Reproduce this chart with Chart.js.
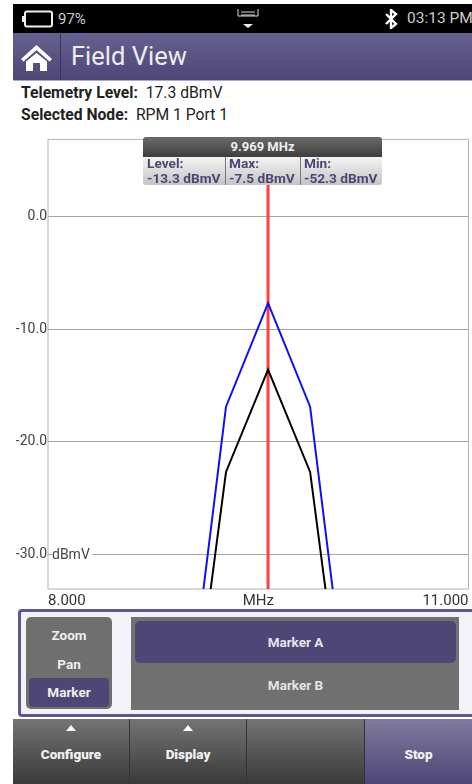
<!DOCTYPE html>
<html>
<head>
<meta charset="utf-8">
<script src="https://cdn.jsdelivr.net/npm/chart.js@4"></script>
<style>
body{margin:0;background:#fff;width:472px;height:784px;overflow:hidden;position:relative;font-family:Roboto,sans-serif}
div,span,svg,canvas{position:absolute}
.c{text-align:center}
.tab{top:719px;height:65px;background:linear-gradient(#747474,#3a3a3a);border-right:1px solid #333;color:#f0f0f0;font-weight:700;font-size:13.5px;text-align:center}
.tab b{position:absolute;left:0;right:0;top:27px;line-height:16px}
.tab i{position:absolute;left:50%;margin-left:-5px;top:6px;border:5px solid transparent;border-top:0;border-bottom:6px solid #fff}
.cell{top:157px;height:28px;color:#4d4675;font-weight:700;font-size:13.7px;line-height:15px;white-space:nowrap;background:linear-gradient(#f4f4f4,#c4c4c4);border-right:1px solid #777}
.cell span{left:4px;top:-1px}
</style>
</head>
<body>
<div style="left:13px;top:4px;width:459px;height:29px;background:#000"></div>
<svg style="left:22px;top:10px" width="32" height="18" viewBox="0 0 32 18"><rect x="3" y="1.5" width="27" height="15" rx="2" fill="none" stroke="#eee" stroke-width="2"/><rect x="0" y="6" width="3" height="6" fill="#eee"/></svg>
<span style="left:58px;top:10px;color:#ccc;font-size:15px;line-height:18px">97%</span>
<svg style="left:236px;top:8px" width="24" height="22" viewBox="0 0 24 22"><path d="M2 1v7h20V1M5 4h14M5 7h14" fill="none" stroke="#ddd" stroke-width="1"/><path d="M7 16h10l-5 4z" fill="#eee"/></svg>
<svg style="left:384px;top:9px" width="14" height="20" viewBox="0 0 14 20"><path d="M2 5l10 10-5 4V1l5 4L2 15" fill="none" stroke="#fff" stroke-width="2.4"/></svg>
<span style="left:407px;top:9px;color:#ccc;font-size:15.5px;line-height:18px;white-space:nowrap">03:13 PM</span>

<div style="left:13px;top:33px;width:459px;height:47px;background:linear-gradient(#66618f,#4f4676);border-bottom:1px solid #aaa8c4"></div>
<div style="left:60px;top:33px;width:1px;height:47px;background:#3a3460"></div>
<svg style="left:20px;top:42px" width="33" height="30" viewBox="0 0 33 30"><path d="M16.5 3L1 17l2.5 2.5 13-11.5 13 11.5L32 17z" fill="#fff"/><path d="M6 19.5L16.5 11 27 19.5V29h-7v-8h-7v8H6z" fill="#fff"/></svg>
<span style="left:71px;top:41px;color:#ececf4;font-size:25.5px;line-height:30px;white-space:nowrap">Field View</span>

<span style="left:21px;top:84px;font-size:15.7px;line-height:18px;white-space:nowrap;color:#222"><b>Telemetry Level:</b>&nbsp; 17.3 dBmV</span>
<span style="left:21px;top:106px;font-size:15.7px;line-height:18px;white-space:nowrap;color:#222"><b>Selected Node:</b>&nbsp; RPM 1 Port 1</span>

<canvas id="fieldChart" width="472" height="480" style="left:0;top:130px;width:472px;height:480px"></canvas>

<span style="left:52px;top:547px;background:#fff;color:#444;font-size:14px;line-height:15px;padding-right:2px">dBmV</span>

<div class="c" style="left:143px;top:137px;width:239px;height:20px;background:linear-gradient(#6a6a6a,#3e3e3e);color:#eee;font-weight:700;font-size:13px;line-height:20px;border-radius:3px 3px 0 0">9.969 MHz</div>
<div class="cell" style="left:143px;width:82px;border-radius:0 0 0 3px"><span>Level:<br>-13.3 dBmV</span></div>
<div class="cell" style="left:226px;width:74px"><span style="left:3px">Max:<br>-7.5 dBmV</span></div>
<div class="cell" style="left:301px;width:81px;border-right:0;border-radius:0 0 3px 0"><span style="left:3px">Min:<br>-52.3 dBmV</span></div>

<div style="left:18px;top:609px;width:454px;height:102px;background:#f2f2f8;border:3px solid #5f5791;border-right:0;border-radius:4px 0 0 4px"></div>
<div style="left:26px;top:617px;width:86px;height:92px;background:#6f6f6f;border-radius:5px"></div>
<span class="c" style="left:26px;top:626px;width:86px;color:#eee;font-weight:700;font-size:13.5px;line-height:18px">Zoom</span>
<span class="c" style="left:26px;top:655px;width:86px;color:#eee;font-weight:700;font-size:13.5px;line-height:18px">Pan</span>
<div class="c" style="left:29px;top:678px;width:80px;height:29px;background:#4e4674;border-radius:4px;color:#eee;font-weight:700;font-size:13.5px;line-height:29px">Marker</div>
<div style="left:131px;top:617px;width:328px;height:93px;background:#707070"></div>
<div class="c" style="left:135px;top:621px;width:321px;height:42px;background:#4e4674;border-radius:5px;color:#e4e4ee;font-weight:700;font-size:13.5px;line-height:42px">Marker A</div>
<span class="c" style="left:135px;top:676px;width:321px;color:#e4e4e4;font-weight:700;font-size:13.5px;line-height:18px">Marker B</span>

<div class="tab" style="left:13px;width:116px"><i></i><b>Configure</b></div>
<div class="tab" style="left:130px;width:116px"><i></i><b>Display</b></div>
<div class="tab" style="left:247px;width:117px"></div>
<div class="tab" style="left:365px;width:107px;background:linear-gradient(#7f7a9e,#4f4676);border-right:0"><b>Stop</b></div>

<script>
const freqs = [8.97, 9.27, 9.57, 9.87, 10.17];
const maxLevels = [-47.1, -16.9, -7.7, -16.9, -47.1];
const levels = [-51.2, -22.7, -13.6, -22.7, -51.2];
const markerFreqs = [9.57, 9.57];
const markerLevels = [-33.1, 6.85];
const yTicks = [0, -10, -20, -30];
const yLabels = ["0.0", "-10.0", "-20.0", "-30.0"];
const xTicks = [8, 9.5, 11];
const xLabels = ["8.000", "MHz", "11.000"];

const toPoints = (xs, ys) => xs.map((x, i) => ({x: x, y: ys[i]}));

// frame round the plot, the axes only give two sides
const frame = {
  id: "frame",
  beforeDatasetsDraw(chart) {
    const a = chart.chartArea, ctx = chart.ctx;
    ctx.save();
    ctx.strokeStyle = "#b4b4b4";
    ctx.lineWidth = 1;
    ctx.strokeRect(a.left, a.top, a.width, a.height);
    ctx.restore();
  }
};

new Chart(document.getElementById("fieldChart"), {
  type: "scatter",
  data: {
    datasets: [
      {data: toPoints(freqs, maxLevels), showLine: true, borderColor: "#1010f0", borderWidth: 2, pointRadius: 0},
      {data: toPoints(freqs, levels), showLine: true, borderColor: "#000", borderWidth: 2, pointRadius: 0},
      {data: toPoints(markerFreqs, markerLevels), showLine: true, borderColor: "#ff4040", borderWidth: 3, pointRadius: 0}
    ]
  },
  plugins: [frame],
  options: {
    responsive: false,
    animation: false,
    layout: {padding: {top: 6, right: 3.5, left: 0, bottom: 0}},
    plugins: {legend: {display: false}, tooltip: {enabled: false}},
    scales: {
      x: {
        type: "linear", min: 8, max: 11,
        afterBuildTicks: (s) => { s.ticks = xTicks.map((v) => ({value: v})); },
        afterFit: (s) => { s.height = 21; },
        grid: {display: false},
        border: {display: false},
        ticks: {
          align: "inner", maxRotation: 0, padding: -5, color: "#333",
          font: {family: "Roboto", size: 15},
          callback: (v) => xLabels[xTicks.indexOf(v)]
        }
      },
      y: {
        type: "linear", min: -33.1, max: 6.85,
        afterBuildTicks: (s) => { s.ticks = yTicks.map((v) => ({value: v})); },
        afterFit: (s) => { s.width = 48; },
        grid: {color: "#a6a6a6", lineWidth: 1, drawTicks: false},
        border: {display: false},
        ticks: {
          padding: 1, color: "#444",
          font: {family: "Roboto", size: 14},
          callback: (v) => yLabels[yTicks.indexOf(v)]
        }
      }
    }
  }
});
</script>
</body>
</html>
